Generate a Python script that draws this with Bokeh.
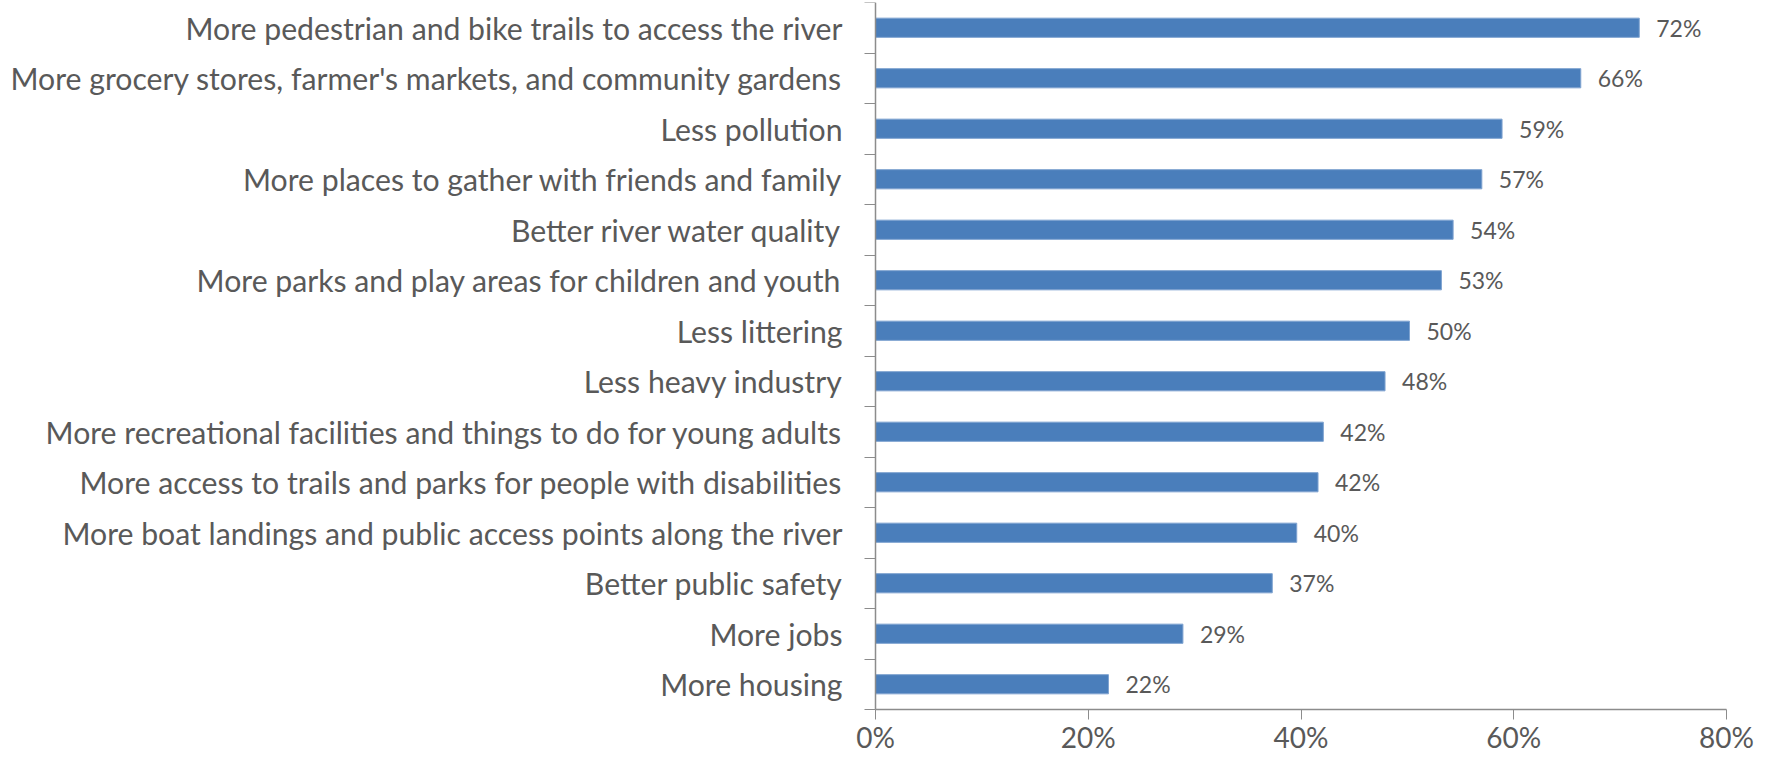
from bokeh.plotting import figure
from bokeh.models import Range1d, FixedTicker, NumeralTickFormatter, ColumnDataSource
from bokeh.embed import file_html
from bokeh.resources import INLINE
from bokeh.core.properties import value

categories = [
    "More pedestrian and bike trails to access the river",
    "More grocery stores, farmer's markets, and community gardens",
    "Less pollution",
    "More places to gather with friends and family",
    "Better river water quality",
    "More parks and play areas for children and youth",
    "Less littering",
    "Less heavy industry",
    "More recreational facilities and things to do for young adults",
    "More access to trails and parks for people with disabilities",
    "More boat landings and public access points along the river",
    "Better public safety",
    "More jobs",
    "More housing",
]
percent_values = [71.8, 66.3, 58.9, 57.0, 54.3, 53.2, 50.2, 47.9, 42.1, 41.6, 39.6, 37.3, 28.9, 21.9]
x_tick_values = [0, 0.2, 0.4, 0.6, 0.8]

n = len(categories)
positions = [n - 1 - i for i in range(n)]
shares = [v / 100.0 for v in percent_values]
labels = [f"{v:.0f}%" for v in percent_values]

source = ColumnDataSource(dict(y=positions, x=shares, label=labels, cat=categories))

FONT = "Lato"
TXT = "#595959"
AX = "#8C8C8C"

# layout plan (pixels): whole figure is the frame; axes are pinned inside it
W, H, TOP = 1759, 757, 2
X_MAX = 0.8
PLOT_LEFT, PLOT_RIGHT = 875, 1726     # where 0% and 80% fall
CAT_PX = 707                          # height of the category area
px_per_x = (PLOT_RIGHT - PLOT_LEFT) / X_MAX
x_start = -PLOT_LEFT / px_per_x
x_end = X_MAX + (W - PLOT_RIGHT) / px_per_x
pad = n * ((H - TOP) / CAT_PX - 1)

p = figure(width=W, height=H, output_backend="svg", toolbar_location=None,
           x_range=Range1d(x_start, x_end), y_range=Range1d(-0.5 - pad, n - 0.5),
           min_border_left=0, min_border_right=0, min_border_top=TOP, min_border_bottom=0)
p.outline_line_color = None
p.grid.visible = False

p.hbar(y="y", right="x", left=0, height=0.38, source=source,
       fill_color="#4A7EBB", line_color="#7FA3D0", line_width=1)

p.text(x="x", y="y", text="label", source=source, x_offset=17,
       text_align="left", text_baseline="middle",
       text_font=value(FONT), text_font_size="23px", text_color=TXT)

# x axis pinned at the bottom edge of the category area
p.xaxis.fixed_location = -0.5
p.xaxis.bounds = (0, X_MAX)
p.xaxis.ticker = FixedTicker(ticks=x_tick_values)
p.xaxis.formatter = NumeralTickFormatter(format="0%")
p.xaxis.axis_line_color = AX
p.xaxis.axis_line_width = 1.5
p.xaxis.major_tick_line_color = AX
p.xaxis.major_tick_in = 0
p.xaxis.major_tick_out = 10
p.xaxis.minor_tick_line_color = None
p.xaxis.major_label_standoff = 0
p.xaxis.major_label_text_font = FONT
p.xaxis.major_label_text_font_size = "28px"
p.xaxis.major_label_text_color = TXT

# y axis pinned at x = 0: labels at category centres, ticks at category boundaries
boundaries = [i - 0.5 for i in range(n + 1)]
p.yaxis.fixed_location = 0
p.yaxis.bounds = (-0.5, n - 0.5)
p.yaxis.ticker = FixedTicker(ticks=positions, minor_ticks=boundaries)
p.yaxis.major_label_overrides = {pos: cat for pos, cat in zip(positions, categories)}
p.yaxis.axis_line_color = AX
p.yaxis.axis_line_width = 1.5
p.yaxis.major_tick_line_color = None
p.yaxis.major_tick_in = 0
p.yaxis.major_tick_out = 0
p.yaxis.minor_tick_line_color = AX
p.yaxis.minor_tick_in = 0
p.yaxis.minor_tick_out = 11
p.yaxis.major_label_standoff = 22
p.yaxis.major_label_text_font = FONT
p.yaxis.major_label_text_font_size = "30.2px"
p.yaxis.major_label_text_color = TXT

open("out.html", "w").write(file_html(p, INLINE))
